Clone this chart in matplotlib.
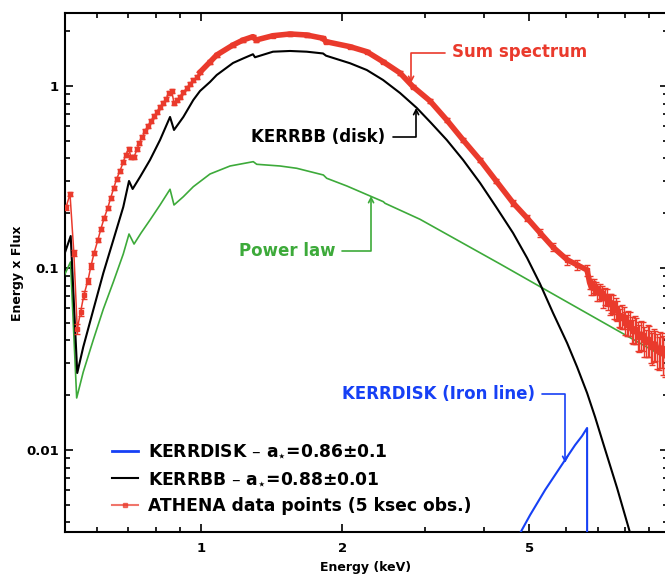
import matplotlib
matplotlib.use("Agg")
import matplotlib.pyplot as plt
from matplotlib.ticker import FixedLocator, LogLocator, NullFormatter, FixedFormatter
from matplotlib.lines import Line2D
import numpy as np

plt.rcParams['font.family'] = ['DejaVu Sans']
plt.rcParams['font.weight'] = 'bold'

# ---- ATHENA simulated spectrum (5 ksec): energy [keV], E x F(E), relative error ----
athena_energy = [
    0.516, 0.526, 0.536, 0.545, 0.554, 0.563, 0.574, 0.583, 0.592, 0.603,
    0.612, 0.622, 0.633, 0.642, 0.652, 0.661, 0.672, 0.683, 0.691, 0.702,
    0.709, 0.720, 0.731, 0.739, 0.750, 0.761, 0.772, 0.784, 0.795, 0.807,
    0.818, 0.831, 0.842, 0.855, 0.866, 0.876, 0.888, 0.902, 0.917, 0.932,
    0.947, 0.963, 0.979, 0.995,
    1.045, 1.080, 1.170, 1.229, 1.290, 1.310, 1.423, 1.547, 1.679, 1.819,
    1.846, 2.077, 2.254, 2.441, 2.653, 2.828, 3.074, 3.337, 3.615, 3.929,
    4.250, 4.618, 4.948, 5.273, 5.619, 6.020, 6.322, 6.640,
    6.72, 6.77, 6.82, 6.875, 6.93, 6.98, 7.03, 7.085, 7.14, 7.195,
    7.25, 7.305, 7.36, 7.415, 7.47, 7.525, 7.58, 7.64, 7.70, 7.76,
    7.82, 7.88, 7.94, 8.00, 8.06, 8.125, 8.19, 8.255, 8.32, 8.385,
    8.45, 8.515, 8.58, 8.65, 8.72, 8.79, 8.86, 8.93, 9.00, 9.07,
    9.14, 9.21, 9.28, 9.355, 9.43, 9.505, 9.58, 9.655, 9.73,
]
athena_flux = [
    0.216, 0.255, 0.121, 0.0462, 0.0573, 0.0711, 0.0848, 0.1026, 0.121, 0.1425,
    0.1638, 0.1883, 0.2137, 0.2424, 0.2752, 0.3083, 0.3411, 0.3823, 0.4177, 0.4506,
    0.4073, 0.4073, 0.4506, 0.4862, 0.5245, 0.5659, 0.6031, 0.6422, 0.6841, 0.7199,
    0.7667, 0.8065, 0.8482, 0.9153, 0.9387, 0.8065, 0.8377, 0.870, 0.921, 0.975,
    1.026, 1.079, 1.120, 1.190,
    1.355, 1.480, 1.680, 1.789, 1.866, 1.789, 1.889, 1.931, 1.906, 1.828,
    1.752, 1.644, 1.543, 1.360, 1.179, 0.991, 0.827, 0.650, 0.505, 0.392,
    0.301, 0.228, 0.188, 0.156, 0.130, 0.111, 0.104, 0.0975,
    0.0835, 0.0790, 0.0781, 0.0800, 0.0779, 0.0738, 0.0728, 0.0747, 0.0731, 0.0688,
    0.0702, 0.0692, 0.0650, 0.0634, 0.0646, 0.0632, 0.0590, 0.0600, 0.0586, 0.0547,
    0.0531, 0.0546, 0.0538, 0.0500, 0.0489, 0.0503, 0.0496, 0.0462, 0.0450, 0.0463,
    0.0457, 0.0427, 0.0418, 0.0433, 0.0429, 0.0400, 0.0390, 0.0405, 0.0401, 0.0375,
    0.0366, 0.0383, 0.0381, 0.0356, 0.0347, 0.0363, 0.0362, 0.0340, 0.0333,
]
athena_relerr = [
    0.03, 0.03, 0.04, 0.06, 0.05, 0.05, 0.04, 0.04, 0.03, 0.03,
    0.03, 0.03, 0.03, 0.02, 0.02, 0.02, 0.02, 0.02, 0.02, 0.02,
    0.02, 0.02, 0.02, 0.02, 0.02, 0.02, 0.02, 0.02, 0.02, 0.02,
    0.02, 0.02, 0.02, 0.02, 0.02, 0.02, 0.02, 0.02, 0.02, 0.02,
    0.02, 0.02, 0.02, 0.02,
    0.02, 0.02, 0.02, 0.02, 0.02, 0.02, 0.02, 0.02, 0.02, 0.02,
    0.02, 0.02, 0.02, 0.02, 0.02, 0.02, 0.02, 0.03, 0.03, 0.03,
    0.03, 0.04, 0.04, 0.05, 0.05, 0.06, 0.06, 0.07,
    0.08, 0.10, 0.09, 0.09, 0.08, 0.11, 0.10, 0.10, 0.09, 0.12,
    0.11, 0.11, 0.10, 0.13, 0.12, 0.12, 0.11, 0.14, 0.13, 0.13,
    0.12, 0.15, 0.14, 0.14, 0.13, 0.16, 0.15, 0.16, 0.15, 0.17,
    0.16, 0.18, 0.17, 0.18, 0.18, 0.19, 0.17, 0.20, 0.19, 0.20,
    0.20, 0.21, 0.19, 0.22, 0.21, 0.22, 0.22, 0.24, 0.24,
]

# ---- KERRBB disk model ----
kerrbb_energy = [
    0.5119, 0.5278, 0.5450, 0.5613, 0.5895, 0.6194, 0.6505, 0.6830, 0.7025, 0.7151,
    0.7414, 0.7786, 0.8179, 0.8590, 0.8759, 0.9169, 0.9629, 0.9951, 1.045, 1.080,
    1.170, 1.229, 1.290, 1.303, 1.423, 1.547, 1.679, 1.819, 1.846, 2.077,
    2.254, 2.441, 2.653, 2.881, 3.090, 3.337, 3.615, 3.929, 4.250, 4.618,
    4.948, 5.273, 5.619, 6.020, 6.322, 6.640, 6.905, 7.181, 7.692, 8.199,
    8.611,
]
kerrbb_flux = [
    0.1194, 0.1499, 0.02649, 0.03680, 0.05875, 0.09387, 0.1425, 0.2164, 0.3006, 0.2717,
    0.3162, 0.3922, 0.5050, 0.6757, 0.5732, 0.6757, 0.8377, 0.9387, 1.052, 1.149,
    1.338, 1.416, 1.494, 1.438, 1.543, 1.557, 1.543, 1.509, 1.467, 1.333,
    1.224, 1.079, 0.9153, 0.7571, 0.6263, 0.5050, 0.3922, 0.2931, 0.2164, 0.1557,
    0.1135, 0.0817, 0.05657, 0.0387, 0.02858, 0.02056, 0.01518, 0.01093, 0.00618, 0.003499,
    0.002305,
]

# ---- Power-law component ----
powerlaw_energy = [
    0.5119, 0.5273, 0.5435, 0.5613, 0.5895, 0.6194, 0.6505, 0.6830, 0.7025, 0.7201,
    0.7452, 0.7786, 0.8179, 0.8590, 0.8759, 0.9169, 0.9629, 1.045, 1.153, 1.292,
    1.314, 1.473, 1.599, 1.822, 1.852, 2.044, 2.291, 2.445, 2.465, 2.927,
    4.334, 5.815, 7.805, 9.830,
]
powerlaw_flux = [
    0.0915, 0.1079, 0.01931, 0.02683, 0.04022, 0.05950, 0.08376, 0.1194, 0.1537, 0.1354,
    0.1557, 0.1835, 0.2219, 0.2707, 0.2219, 0.2464, 0.2797, 0.3284, 0.3634, 0.3838,
    0.3713, 0.3634, 0.3530, 0.3243, 0.3111, 0.2822, 0.2486, 0.2313, 0.2267, 0.1851,
    0.1052, 0.0684, 0.0445, 0.0318,
]

# ---- KERRDISK iron line ----
kerrdisk_energy = [4.757, 5.020, 5.404, 5.902, 6.261, 6.478, 6.640, 6.641]
kerrdisk_flux = [0.00341, 0.00439, 0.00603, 0.00849, 0.01065, 0.01194, 0.01321, 0.0010]

legend_labels = [
    r'KERRDISK – a$_{\star}$=0.86±0.1',
    r'KERRBB – a$_{\star}$=0.88±0.01',
    'ATHENA data points (5 ksec obs.)',
]

RED = '#EA3A2C'
GREEN = '#3DAA3A'
BLUE = '#1640F5'
BLACK = '#000000'

fig = plt.figure(figsize=(6.65, 5.74), dpi=100)
ax = fig.add_axes([0.0970, 0.0723, 0.9068, 0.9042])
ax.set_xscale('log')
ax.set_yscale('log')
ax.set_xlim(0.512, 9.85)
ax.set_ylim(0.003521, 2.502)

# model components
ax.plot(powerlaw_energy, powerlaw_flux, color=GREEN, lw=1.2, zorder=3)
ax.plot(kerrbb_energy, kerrbb_flux, color=BLACK, lw=1.5, zorder=4)
ax.plot(kerrdisk_energy, kerrdisk_flux, color=BLUE, lw=1.5, zorder=4)

# data points
e = np.array(athena_energy)
f = np.array(athena_flux)
err = f * np.array(athena_relerr)
ax.errorbar(e, f, yerr=err, fmt='s-', ms=3.2, color=RED, ecolor=RED,
            elinewidth=1.0, capsize=2, lw=1.1, zorder=5)
band = e >= 0.99
ax.plot(e[band], f[band], color=RED, lw=4.0, solid_joinstyle='round', zorder=5)

# axes styling
for s in ax.spines.values():
    s.set_linewidth(1.5)
ax.xaxis.set_major_locator(FixedLocator([1, 2, 5]))
ax.xaxis.set_major_formatter(FixedFormatter(['1', '2', '5']))
ax.xaxis.set_minor_locator(FixedLocator([0.6, 0.7, 0.8, 0.9, 3, 4, 6, 7, 8, 9]))
ax.xaxis.set_minor_formatter(NullFormatter())
ax.yaxis.set_major_locator(FixedLocator([0.01, 0.1, 1]))
ax.yaxis.set_major_formatter(FixedFormatter(['0.01', '0.1', '1']))
ax.yaxis.set_minor_locator(LogLocator(base=10, subs=np.arange(2, 10)))
ax.yaxis.set_minor_formatter(NullFormatter())
ax.tick_params(which='both', direction='in', top=True, right=True, width=1.2)
ax.tick_params(which='major', length=6, labelsize=9.5)
ax.tick_params(which='minor', length=3.5)
ax.tick_params(axis='x', which='major', pad=7)
ax.tick_params(axis='y', which='major', pad=4)
for lab in ax.get_xticklabels() + ax.get_yticklabels():
    lab.set_fontweight('bold')

ax.set_xlabel('Energy (keV)', fontsize=9, fontweight='bold', labelpad=4)
ax.set_ylabel('Energy x Flux', fontsize=9, fontweight='bold', labelpad=1.5)


def label_with_arrow(text, text_xy, ha, start, tip, color):
    """Coloured label with an elbow connector ending in an arrow at the curve."""
    ax.text(text_xy[0], text_xy[1], text, color=color, fontsize=12,
            fontweight='bold', ha=ha, va='center', zorder=6)
    ax.annotate('', xy=tip, xytext=start,
                arrowprops=dict(arrowstyle='->,head_length=0.35,head_width=0.18',
                                color=color, lw=1.2, shrinkA=0, shrinkB=0,
                                connectionstyle='angle,angleA=0,angleB=90,rad=0'),
                zorder=6)


label_with_arrow('Sum spectrum', (3.424, 1.538), 'left', (3.309, 1.518), (2.801, 1.039), RED)
label_with_arrow('KERRBB (disk)', (2.465, 0.5245), 'right', (2.564, 0.5245), (2.871, 0.7571), BLACK)
label_with_arrow('Power law', (1.929, 0.1240), 'right', (1.997, 0.1240), (2.302, 0.2486), GREEN)
label_with_arrow('KERRDISK (Iron line)', (5.145, 0.0203), 'right', (5.325, 0.0203), (5.962, 0.008485), BLUE)

# legend
handles = [
    Line2D([], [], color=BLUE, lw=2),
    Line2D([], [], color=BLACK, lw=1.5),
    Line2D([], [], color=RED, lw=1.5, alpha=0.7, marker='s', ms=2.5),
]
leg = ax.legend(handles, legend_labels, loc='lower left', bbox_to_anchor=(0.0788, 0.033),
                frameon=False, fontsize=12.3, handlelength=1.5, handletextpad=0.6,
                labelspacing=0.55, borderpad=0, borderaxespad=0)
for t in leg.get_texts():
    t.set_fontweight('bold')

fig.savefig('out.png', dpi=100)
